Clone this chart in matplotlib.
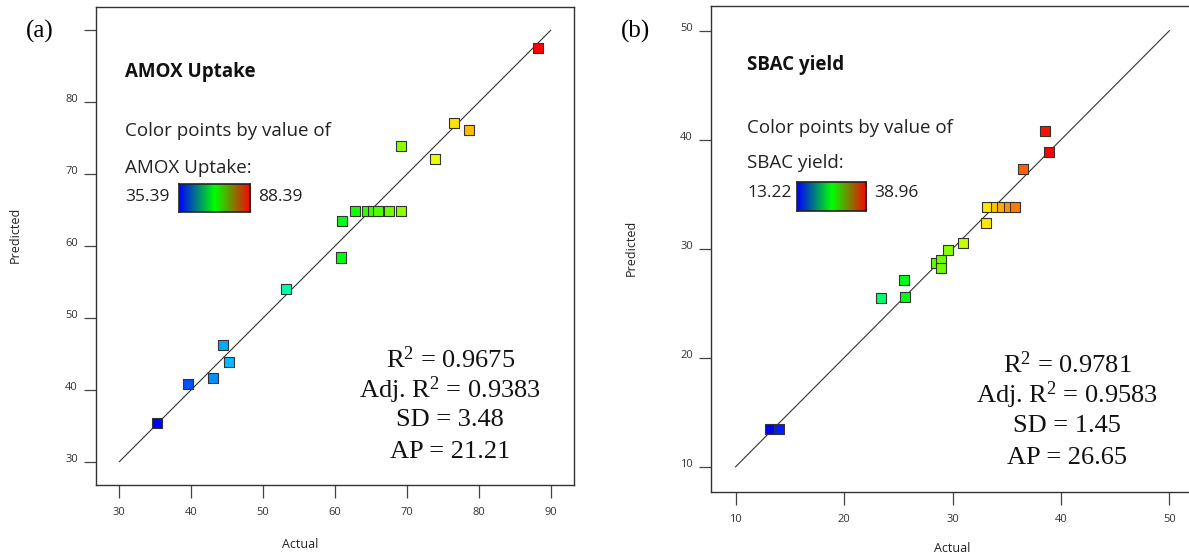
"""Predicted vs Actual - AMOX uptake and SBAC yield"""

import numpy as np
import matplotlib
matplotlib.use("Agg")
import matplotlib.pyplot as plt
from matplotlib.colors import ListedColormap, LinearSegmentedColormap, hsv_to_rgb

# DATA:

# (a) AMOX Uptake
amox_actual = [88.3, 76.5, 78.6, 69.2, 73.9, 62.8, 64.5, 65.3, 66.0, 67.5, 69.2,
               61.0, 60.9, 53.2, 44.4, 45.2, 43.0, 39.6, 35.3]
amox_pred = [87.6, 77.1, 76.1, 73.9, 72.1, 64.9, 64.9, 64.9, 64.9, 64.9, 64.9,
             63.5, 58.4, 54.0, 46.2, 43.8, 41.7, 40.8, 35.4]
amox_range = [35.39, 88.39]
amox_stats = ["R$^2$ = 0.9675", "Adj. R$^2$ = 0.9383", "SD = 3.48", "AP = 21.21"]
amox_ticks = [30, 40, 50, 60, 70, 80, 90]

# (b) SBAC yield
sbac_actual = [38.5, 38.9, 36.5, 33.2, 34.0, 34.6, 35.2, 35.8, 33.1, 31.0, 29.6,
               28.5, 28.9, 28.9, 25.5, 25.6, 23.4, 13.2, 14.0]
sbac_pred = [40.8, 38.9, 37.3, 33.8, 33.8, 33.8, 33.8, 33.8, 32.4, 30.5, 29.9,
             28.7, 29.0, 28.2, 27.1, 25.6, 25.5, 13.5, 13.5]
sbac_range = [13.22, 38.96]
sbac_stats = ["R$^2$ = 0.9781", "Adj. R$^2$ = 0.9583", "SD = 1.45", "AP = 26.65"]
sbac_ticks = [10, 20, 30, 40, 50]

# ---

# point colours: hue going from blue (240 deg) to red (0 deg)
hues = np.linspace(240, 0, 256) / 360
point_cmap = ListedColormap(hsv_to_rgb(np.column_stack([hues, np.ones(256), np.ones(256)])))
# legend bar: plain rgb blend blue -> green -> red
bar_cmap = LinearSegmentedColormap.from_list("bar", ["#0000ff", "#00ff00", "#ff0000"])

plt.rcParams["font.family"] = ["Open Sans", "DejaVu Sans"]
plt.rcParams["mathtext.fontset"] = "custom"
plt.rcParams["mathtext.rm"] = "Liberation Serif"
plt.rcParams["mathtext.it"] = "Liberation Serif:italic"
plt.rcParams["mathtext.bf"] = "Liberation Serif:bold"

fig = plt.figure(figsize=(11.89, 5.56), dpi=100)
W, H = 1189, 556


def px_axes(x0, top, w, h):
    return fig.add_axes([x0 / W, 1 - (top + h) / H, w / W, h / H])


def draw_panel(ax, actual, pred, vrange, ticks, lims, title, stats, hidden_top, legend_pos):
    ax.set_xlim(lims)
    ax.set_ylim(lims)
    ax.plot([ticks[0], ticks[-1]], [ticks[0], ticks[-1]], color="#333333", lw=0.8, zorder=1)
    ax.scatter(actual, pred, c=actual, cmap=point_cmap, vmin=vrange[0], vmax=vrange[1],
               marker="s", s=52, edgecolors="#333333", linewidths=0.8, zorder=3)

    ax.set_xticks(ticks)
    ax.set_yticks(ticks)
    ylabels = [str(t) for t in ticks]
    if hidden_top:
        ylabels[-1] = ""
    ax.set_yticklabels(ylabels)
    ax.tick_params(direction="out", length=9, width=0.9, color="#444444",
                   labelsize=8, labelcolor="#333333", pad=4)
    ax.tick_params(axis="x", pad=7)
    for lab in ax.get_yticklabels():
        lab.set_va("baseline")
    for sp in ax.spines.values():
        sp.set_color("#333333")
        sp.set_linewidth(1.0)

    tx, ty_title, ty_c1, ty_c2, ty_bar, bar_box, tx_max, tx_stats = legend_pos
    ax.text(tx, ty_title, title, transform=ax.transAxes, fontsize=13.5,
            fontweight="bold", va="center", color="#111111")
    ax.text(tx, ty_c1, "Color points by value of", transform=ax.transAxes,
            fontsize=13.5, va="center", color="#222222")
    ax.text(tx, ty_c2, title + ":", transform=ax.transAxes, fontsize=13.5,
            va="center", color="#222222")
    ax.text(tx, ty_bar, f"{vrange[0]:.2f}", transform=ax.transAxes, fontsize=12.5,
            va="center", color="#222222")
    ax.text(tx_max, ty_bar, f"{vrange[1]:.2f}", transform=ax.transAxes, fontsize=12.5,
            va="center", color="#222222")
    cax = ax.inset_axes(bar_box)
    cax.imshow(np.linspace(0, 1, 256)[None, :], cmap=bar_cmap, aspect="auto")
    cax.set_xticks([])
    cax.set_yticks([])
    for sp in cax.spines.values():
        sp.set_color("#222222")
        sp.set_linewidth(1.2)

    for line, yy in zip(stats, [0.262, 0.198, 0.135, 0.069]):
        ax.text(tx_stats, yy, line, transform=ax.transAxes, ha="center", va="center",
                fontsize=19, family=["Liberation Serif", "DejaVu Serif"], color="#111111")


# (a)
ax1 = px_axes(96, 7, 478, 478)
draw_panel(ax1, amox_actual, amox_pred, amox_range, amox_ticks, (26.75, 93.25),
           "AMOX Uptake", amox_stats, True,
           (0.061, 0.864, 0.741, 0.663, 0.603, [0.174, 0.571, 0.149, 0.059], 0.339, 0.741))

# (b)
ax2 = px_axes(711, 6, 483, 485.5)
draw_panel(ax2, sbac_actual, sbac_pred, sbac_range, sbac_ticks, (7.74, 52.26),
           "SBAC yield", sbac_stats, False,
           (0.0745, 0.878, 0.749, 0.677, 0.615, [0.178, 0.578, 0.143, 0.060], 0.337, 0.737))
ax2.spines["right"].set_visible(False)

# axis titles and panel letters
fig.text(300 / W, 1 - 544 / H, "Actual", ha="center", va="center", fontsize=9, color="#222222")
fig.text(952 / W, 1 - 548 / H, "Actual", ha="center", va="center", fontsize=9, color="#222222")
fig.text(15 / W, 1 - 235 / H, "Predicted", ha="center", va="center", rotation=90,
         fontsize=9, color="#222222")
fig.text(631 / W, 1 - 248 / H, "Predicted", ha="center", va="center", rotation=90,
         fontsize=9, color="#222222")
fig.text(40 / W, 1 - 31 / H, "(a)", ha="center", va="center", fontsize=18,
         family=["Liberation Serif", "DejaVu Serif"])
fig.text(636 / W, 1 - 31 / H, "(b)", ha="center", va="center", fontsize=18,
         family=["Liberation Serif", "DejaVu Serif"])

fig.savefig("out.png", dpi=100)
